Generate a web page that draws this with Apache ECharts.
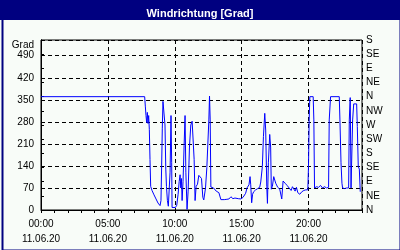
<!DOCTYPE html>
<html><head><meta charset="utf-8">
<script src="https://cdn.jsdelivr.net/npm/echarts@6/dist/echarts.min.js"></script>
<style>html,body{margin:0;padding:0;background:#f8fcf8}#c{width:400px;height:250px}</style>
</head><body><div id="c"></div>
<script>
var chartTitle = 'Windrichtung [Grad]';
var dateLabel = '11.06.20';
var timeTickLabels = ['00:00', '05:00', '10:00', '15:00', '20:00'];
var compassLabels = ['N','NE','E','SE','S','SW','W','NW','N','NE','E','SE','S'];
var yUnit = 'Grad';
// time in hours since 00:00, wind direction in degrees
var hours = [0, 7.75, 7.8, 7.85, 7.9, 7.95, 8.0, 8.05, 8.1, 8.15, 8.2, 8.3, 8.45, 8.6, 8.75, 8.9, 8.97,
  9.02, 9.07, 9.12, 9.22, 9.27, 9.33, 9.38, 9.45, 9.52, 9.58, 9.65, 9.72, 9.77, 9.8, 9.93, 10.05, 10.15,
  10.25, 10.33, 10.4, 10.45, 10.5, 10.55, 10.62, 10.7, 10.77, 10.83, 10.92, 11.0, 11.1, 11.2, 11.3, 11.4,
  11.45, 11.52, 11.6, 11.7, 11.8, 11.9, 12.0, 12.1, 12.17, 12.3, 12.4, 12.5, 12.55, 12.6, 12.65, 12.7,
  12.9, 13.1, 13.3, 13.45, 13.7, 13.9, 14.05, 14.2, 14.35, 14.5, 14.6, 14.75, 14.95, 15.1, 15.3, 15.4,
  15.45, 15.55, 15.63, 15.68, 15.75, 15.82, 15.9, 16.05, 16.2, 16.35, 16.43, 16.55, 16.63, 16.73, 16.8,
  16.88, 16.93, 17.0, 17.1, 17.17, 17.22, 17.3, 17.4, 17.55, 17.7, 17.85, 18.0, 18.1, 18.25, 18.4, 18.55,
  18.7, 18.8, 18.9, 19.0, 19.1, 19.2, 19.35, 19.5, 19.65, 19.8, 19.95, 20.0, 20.05, 20.1, 20.35, 20.4,
  20.45, 20.6, 20.75, 20.9, 21.05, 21.2, 21.35, 21.5, 21.55, 21.65, 22.3, 22.35, 22.43, 22.5, 22.55,
  22.7, 22.85, 23.0, 23.05, 23.12, 23.18, 23.3, 23.38, 23.6, 23.65, 23.72, 23.8, 23.87, 23.92];
var degrees = [360, 360, 330, 300, 278, 310, 275, 300, 255, 160, 75, 62, 48, 35, 22, 14, 30,
  140, 260, 345, 348, 270, 130, 75, 30, 12, 10, 120, 300, 150, 8, 6, 8, 15,
  50, 90, 112, 70, 100, 30, 90, 205, 300, 120, 2, 60, 200, 270, 282, 286,
  160, 30, 75, 82, 110, 112, 100, 40, 32, 70, 135, 140, 286, 362, 286, 73,
  70, 60, 55, 33, 33, 34, 35, 42, 36, 38, 33, 36, 35, 40, 53, 70,
  68, 80, 106, 80, 23, 50, 58, 64, 68, 72, 89, 138, 233, 307, 254,
  74, 21, 150, 240, 200, 66, 75, 106, 85, 72, 66, 35, 92, 85, 78, 70,
  62, 74, 70, 60, 72, 55, 50, 58, 62, 64, 64, 140, 286, 360, 360, 286,
  70, 74, 72, 78, 70, 74, 70, 72, 286, 360, 360, 286, 150, 85, 70,
  68, 70, 70, 286, 357, 70, 286, 337, 337, 265, 138, 130, 58, 58];

var seriesData = hours.map(function (h, i) { return [h, degrees[i]]; });
var font = 'Liberation Sans';
var chart = echarts.init(document.getElementById('c'), null, {renderer: 'canvas'});
chart.setOption({
  backgroundColor: '#f8fcf8',
  animation: false,
  title: {
    text: chartTitle, left: 'center', top: 3,
    textStyle: {color: '#ffffff', fontSize: 11, fontWeight: 'bold', fontFamily: font}
  },
  graphic: [
    {type: 'rect', left: 0, top: 0, z: -1, shape: {width: 400, height: 20}, style: {fill: '#000080'}},
    {type: 'rect', left: 0, top: 0, z: -1, shape: {x: 1, y: 1, width: 398, height: 248},
     style: {fill: 'none', stroke: '#000080', lineWidth: 2}}
  ],
  grid: {left: 41, right: 38, top: 40, bottom: 40, show: true, borderColor: '#000', borderWidth: 1, backgroundColor: 'transparent'},
  xAxis: [{
    type: 'value', min: 0, max: 24, interval: 5, position: 'bottom',
    axisLine: {lineStyle: {color: '#000', width: 1}},
    axisTick: {show: false},
    axisLabel: {
      color: '#000', fontSize: 10, fontFamily: font, margin: 7, lineHeight: 15, showMaxLabel: false,
      formatter: function (v) { return timeTickLabels[v / 5] + '\n' + dateLabel; }
    },
    splitLine: {show: true, lineStyle: {color: '#000', type: [4, 3], width: 1}}
  }, {
    type: 'value', min: 0, max: 24, interval: 1, position: 'bottom',
    axisLine: {show: false},
    axisTick: {show: true, length: 3, lineStyle: {color: '#000'}},
    axisLabel: {show: false},
    splitLine: {show: false}
  }],
  yAxis: [{
    type: 'value', min: 0, max: 540, interval: 70, position: 'left',
    axisLine: {show: true, lineStyle: {color: '#000'}},
    axisTick: {show: false},
    axisLabel: {
      color: '#000', fontSize: 10, fontFamily: font, margin: 7,
      formatter: function (v) { return v === 540 ? '{g|' + yUnit + '}' : String(v); },
      rich: {g: {fontSize: 10, fontFamily: font, color: '#000', padding: [10, 0, 0, 0]}}
    },
    splitLine: {show: true, lineStyle: {color: '#000', type: [4, 3], width: 1}}
  }, {
    type: 'value', min: 0, max: 540, interval: 45, position: 'right',
    axisLine: {show: true, lineStyle: {color: '#000'}},
    axisTick: {show: true, length: 3, lineStyle: {color: '#000'}},
    axisLabel: {
      color: '#000', fontSize: 10, fontFamily: font, margin: 4,
      formatter: function (v) { return compassLabels[Math.round(v / 45)]; }
    },
    splitLine: {show: false}
  }],
  series: [{
    type: 'line', xAxisIndex: 0, yAxisIndex: 0, data: seriesData,
    showSymbol: false, symbol: 'none',
    lineStyle: {color: '#0000ff', width: 1}
  }]
});
</script></body></html>
